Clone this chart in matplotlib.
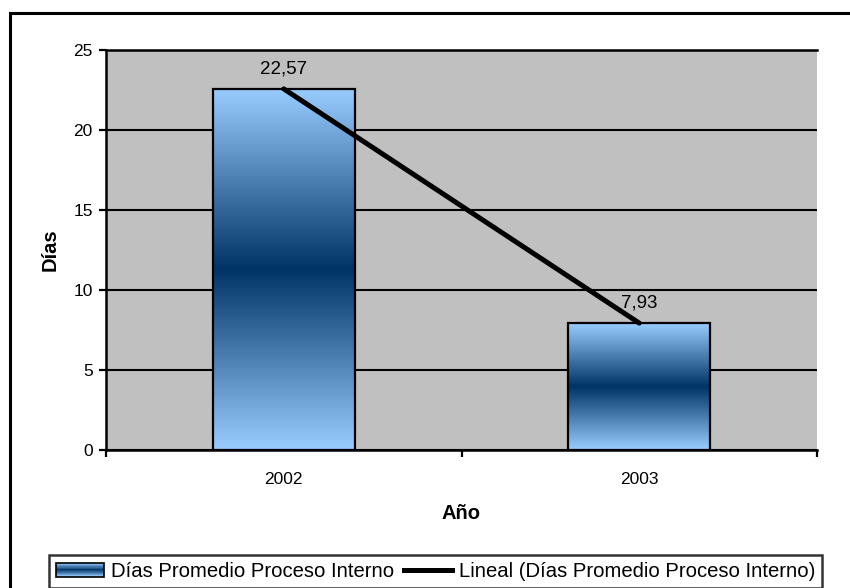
import numpy as np
import matplotlib
matplotlib.use("Agg")
import matplotlib.pyplot as plt
from matplotlib.colors import LinearSegmentedColormap
from matplotlib.patches import Rectangle
from matplotlib.lines import Line2D
from matplotlib.legend_handler import HandlerBase

plt.rcParams['font.family'] = ['Liberation Sans', 'DejaVu Sans']

years = ["2002", "2003"]
dias = [22.57, 7.93]
value_labels = ["22,57", "7,93"]
y_ticks = [0, 5, 10, 15, 20, 25]

series_name = "Días Promedio Proceso Interno"
trend_name = "Lineal (Días Promedio Proceso Interno)"

light = "#99CCFF"
dark = "#003366"
grad_cmap = LinearSegmentedColormap.from_list("band", [light, dark, light])

fig = plt.figure(figsize=(8.5, 5.88), dpi=100)
W, H = 850, 588
ax = fig.add_axes([106 / W, 1 - 450 / H, (817 - 106) / W, (450 - 50) / H])
ax.set_facecolor("#C0C0C0")

# outer chart frame (open at the right and bottom edges)
fig.patches.append(Rectangle((10 / W, -0.2), 1.2, 1.2 - 13 / H,
                             transform=fig.transFigure, fill=False,
                             edgecolor="black", linewidth=2.2, zorder=0))

x = np.arange(len(years))
bar_w = 0.4
grad = np.linspace(0, 1, 256).reshape(-1, 1)
bars = ax.bar(x, dias, width=bar_w, facecolor="none", edgecolor="black",
              linewidth=1.6, zorder=4)
for b in bars:
    x0, y0 = b.get_x(), b.get_y()
    w, h = b.get_width(), b.get_height()
    ax.imshow(grad, cmap=grad_cmap, aspect="auto",
              extent=(x0, x0 + w, y0, y0 + h), origin="lower",
              interpolation="bicubic", zorder=3)

# linear trend through the series
coef = np.polyfit(x, dias, 1)
trend = np.polyval(coef, x)
ax.plot(x, trend, color="black", linewidth=3.6, zorder=5,
        solid_capstyle="round")

for xi, v, lab in zip(x, dias, value_labels):
    ax.annotate(lab, (xi, v), xytext=(0, 11), textcoords="offset points",
                ha="center", va="baseline", fontsize=13.5, zorder=6)

ax.set_xlim(-0.5, len(years) - 0.5)
ax.set_ylim(0, 25)
ax.set_yticks(y_ticks)
ax.yaxis.grid(True, color="black", linewidth=1.5)
ax.set_axisbelow(True)
ax.set_xticks(x)
ax.set_xticklabels(years, fontsize=12.5)
ax.set_xticks(np.arange(len(years) + 1) - 0.5, minor=True)
ax.tick_params(axis="x", which="major", length=0, pad=16)
ax.tick_params(axis="x", which="minor", length=5, width=1.6, direction="out")
ax.tick_params(axis="y", length=5, width=1.6, labelsize=12.5, pad=4.5)
for side in ["left", "bottom", "top"]:
    ax.spines[side].set_linewidth(1.8)
ax.spines["right"].set_visible(False)

ax.set_ylabel("Días", fontsize=14.5, fontweight="bold", labelpad=10)
ax.set_xlabel("Año", fontsize=14.5, fontweight="bold", labelpad=12)


class GradientHandler(HandlerBase):
    def create_artists(self, legend, orig_handle, xdescent, ydescent,
                       width, height, fontsize, trans):
        n = 24
        arts = []
        for i in range(n):
            c = grad_cmap((i + 0.5) / n)
            arts.append(Rectangle((-xdescent, -ydescent + height * i / n),
                                  width, height / n, facecolor=c,
                                  edgecolor="none", transform=trans))
        arts.append(Rectangle((-xdescent, -ydescent), width, height,
                              facecolor="none", edgecolor="black",
                              linewidth=1.2, transform=trans))
        return arts


bar_handle = Rectangle((0, 0), 1, 1)
line_handle = Line2D([], [], color="black", linewidth=3.6)
leg = fig.legend([bar_handle, line_handle], [series_name, trend_name],
                 handler_map={Rectangle: GradientHandler()},
                 loc="lower center",
                 bbox_to_anchor=(435.5 / W, 0.0), ncol=2,
                 fontsize=14.6, frameon=True, fancybox=False,
                 edgecolor="black", handlelength=2.36, handleheight=0.65,
                 handletextpad=0.35, columnspacing=0.5,
                 borderpad=0.35, borderaxespad=0.0)
leg.get_frame().set_linewidth(1.8)

fig.savefig("out.png", dpi=100)
